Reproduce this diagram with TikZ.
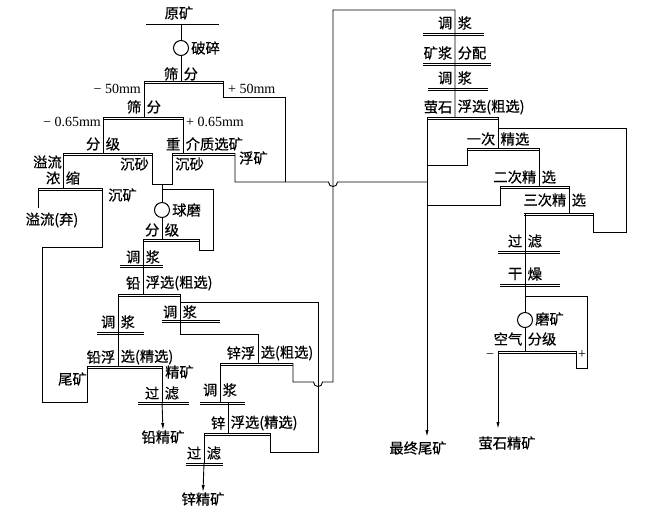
\documentclass[tikz,border=0pt]{standalone}
\usepackage{fontspec}
\setmainfont{Liberation Serif}
\newfontfamily\cjk[FakeBold=0.6]{Noto Sans CJK SC}
\usetikzlibrary{arrows.meta}
\tikzset{
  flow/.style={line width=0.9pt, line join=miter},
  txt/.style={font=\cjk\fontsize{14.3}{15}\selectfont, inner sep=0pt},
  lat/.style={font=\fontsize{14}{15}\selectfont, inner sep=0pt},
  arr/.style={flow,-{Latex[length=7pt,width=3.2pt]}},
  mill/.style={draw, circle, line width=1pt, minimum size=15pt, inner sep=0pt}
}
% separation (double) line
\newcommand{\sepl}[3]{%
  \draw[line width=0.7pt] (#1,#3) -- (#2,#3);
  \draw[line width=1.4pt] (#1,#3+2.4) -- (#2,#3+2.4);}
% text split by a vertical line at x
\newcommand{\lrtxt}[5]{%
  \node[txt,anchor=east] (#1L) at (#2-2.5,#3) {#4};
  \node[txt,anchor=west] (#1R) at (#2+2.5,#3) {#5};}
% hump over a vertical line at x on horizontal line y
\newcommand{\hump}[2]{(#1-4.5,#2) .. controls (#1-4.5,#2+6) and (#1+4.5,#2+6) .. (#1+4.5,#2)}
\begin{document}
\begin{tikzpicture}[x=1pt,y=-1pt]
\useasboundingbox (0,0) rectangle (650,512);
\fill[white] (0,0) rectangle (650,512);

%---------------- crushing and screening
\node[txt] (feed) at (179,13) {原矿};
\draw[line width=0.9pt] (146,24) -- (219,24);
\node[mill] (crush) at (181,48) {};
\node[txt,anchor=west] (crushT) at (191,48) {破碎};
\draw[flow] (181,24) -- (crush.north);
\draw[flow] (crush.south) -- (181,81);
\lrtxt{scA}{181}{74}{筛}{分}
\sepl{144}{223}{81}
\node[lat,anchor=east] (m50) at (141,89) {− 50mm};
\node[lat,anchor=west] (p50) at (228,89) {+ 50mm};
\draw[flow] (223,81) -- (223,97) -- (285,97) -- (285,182);
\draw[flow] (144,81) -- (144,117);
\lrtxt{scB}{144}{107}{筛}{分}
\sepl{103}{183}{117}
\node[lat,anchor=east] (m065) at (101,122) {− 0.65mm};
\node[lat,anchor=west] (p065) at (186,122) {+ 0.65mm};
\draw[flow] (103,117) -- (103,153);
\draw[flow] (183,117) -- (183,153);
\lrtxt{cls}{103}{144}{分}{级}
\lrtxt{hms}{183}{144}{重}{介质选矿}
\sepl{63}{152}{153}
\sepl{172}{235}{153}
\node[txt,anchor=east] (ovf) at (62,162) {溢流};
\node[txt,anchor=east] (sandA) at (149,164) {沉砂};
\node[txt,anchor=west] (sandB) at (175,164) {沉砂};
\node[txt,anchor=west] (float) at (239,158) {浮矿};
% heavy-media float to final tailings, with hump
\draw[flow] (235,153) -- (235,182) -- \hump{333}{182} -- (427,182);

%---------------- thickening
\draw[flow] (63,153) -- (63,188);
\lrtxt{thk}{63}{178}{浓}{缩}
\sepl{38}{102}{188}
\draw[flow] (38,188) -- (38,208);
\node[txt] (ovw) at (52,220) {溢流(弃)};
\node[txt,anchor=west] (sett) at (108,195) {沉矿};
\draw[flow] (102,188) -- (102,247) -- (42,247) -- (42,402) -- (87,402) -- (87,366);

%---------------- ball mill
\draw[flow] (152,153) -- (152,184) -- (172,184) -- (172,153);
\node[mill] (ball) at (162,210) {};
\node[txt,anchor=west] (ballT) at (172,210) {球磨};
\draw[flow] (162,184) -- (ball.north);
\draw[flow] (ball.south) -- (162,239);
\draw[flow] (162,189) -- (213,189) -- (213,250) -- (199,250) -- (199,239);
\lrtxt{clsB}{162}{230}{分}{级}
\sepl{143}{199}{239}
\draw[flow] (143,239) -- (143,294);
\lrtxt{cdA}{143}{257}{调}{浆}
\sepl{120}{163}{265}
\lrtxt{pbR}{143}{283}{铅}{浮选(粗选)}
\sepl{118}{180}{294}

%---------------- lead cleaner
\draw[flow] (118,294) -- (118,366);
\lrtxt{cdB}{118}{322}{调}{浆}
\sepl{97}{144}{332}
\lrtxt{pbC}{118}{357}{铅浮}{选(精选)}
\sepl{87}{162}{366}
\node[txt,anchor=east] (pbT) at (87,379) {尾矿};
\node[txt,anchor=west] (pbCc) at (165,372) {精矿};
\draw[flow] (162,366) -- (162,402);
\lrtxt{fiA}{162}{393}{过}{滤}
\sepl{138}{189}{402}
\node[txt] (pbcon) at (163,437) {铅精矿};
\draw[arr] (162,402) -- (pbcon.north);

%---------------- zinc
\draw[flow] (180,294) -- (180,334) -- (258,334) -- (258,363);
\draw[flow] (180,302) -- (318,302) -- (318,452) -- (270,452) -- (270,433);
\lrtxt{cdC}{180}{312}{调}{浆}
\sepl{162}{220}{320}
\lrtxt{znR}{258}{353}{锌浮}{选(粗选)}
\sepl{220}{293}{363}
\draw[flow] (220,363) -- (220,402);
\lrtxt{cdD}{220}{390}{调}{浆}
\sepl{200}{245}{402}
\draw[flow] (228,402) -- (228,433);
\lrtxt{znC}{228}{423}{锌}{浮选(精选)}
\sepl{204}{270}{433}
\draw[flow] (204,433) -- (204,463);
\lrtxt{fiB}{204}{453}{过}{滤}
\sepl{186}{223}{463}
\node[txt] (zncon) at (203,499) {锌精矿};
\draw[arr] (204,463) -- (zncon.north);
% zinc rougher tailings to fluorite circuit
\draw[flow] (293,363) -- (293,382) -- \hump{318}{382} -- (333,382) -- (333,10) -- (455,10) -- (455,117);

%---------------- fluorite
\lrtxt{cdE}{455}{23}{调}{浆}
\sepl{423}{484}{33}
\lrtxt{dist}{455}{53}{矿浆}{分配}
\sepl{423}{491}{63}
\lrtxt{cdF}{455}{78}{调}{浆}
\sepl{428}{488}{88}
\lrtxt{caR}{455}{107}{萤石}{浮选(粗选)}
\sepl{427}{498}{117}
\node[txt] (tail) at (418,448) {最终尾矿};
\draw[arr] (427,117) -- (427,437);
\draw[flow] (498,117) -- (498,148);
\draw[flow] (498,128) -- (626,128) -- (626,232) -- (593,232) -- (593,213);
\lrtxt{c1}{498}{139}{一次}{精选}
\sepl{467}{539}{148}
\draw[flow] (467,148) -- (467,165) -- (427,165);
\draw[flow] (539,148) -- (539,186);
\lrtxt{c2}{539}{177}{二次精}{选}
\sepl{500}{569}{186}
\draw[flow] (500,186) -- (500,205) -- (427,205);
\draw[flow] (569,186) -- (569,213);
\lrtxt{c3}{569}{200}{三次精}{选}
\sepl{524}{593}{213}
\draw[flow] (525,213) -- (525,251);
\lrtxt{fiC}{525}{241}{过}{滤}
\sepl{498}{560}{251}
\draw[flow] (525,251) -- (525,284);
\lrtxt{dry}{525}{274}{干}{燥}
\sepl{500}{560}{284}
\node[mill] (grind) at (525,320) {};
\node[txt,anchor=west] (grindT) at (535,319) {磨矿};
\draw[flow] (525,284) -- (grind.north);
\draw[flow] (grind.south) -- (525,351);
\draw[flow] (525,296) -- (587,296) -- (587,368) -- (576,368) -- (576,351);
\lrtxt{air}{525}{339}{空气}{分级}
\sepl{498}{577}{351}
\node[lat] (minus) at (490,356) {−};
\node[lat] (plus) at (582,355) {+};
\node[txt] (cacon) at (507,443) {萤石精矿};
\draw[arr] (498,351) -- (498,429);
\end{tikzpicture}
\end{document}
